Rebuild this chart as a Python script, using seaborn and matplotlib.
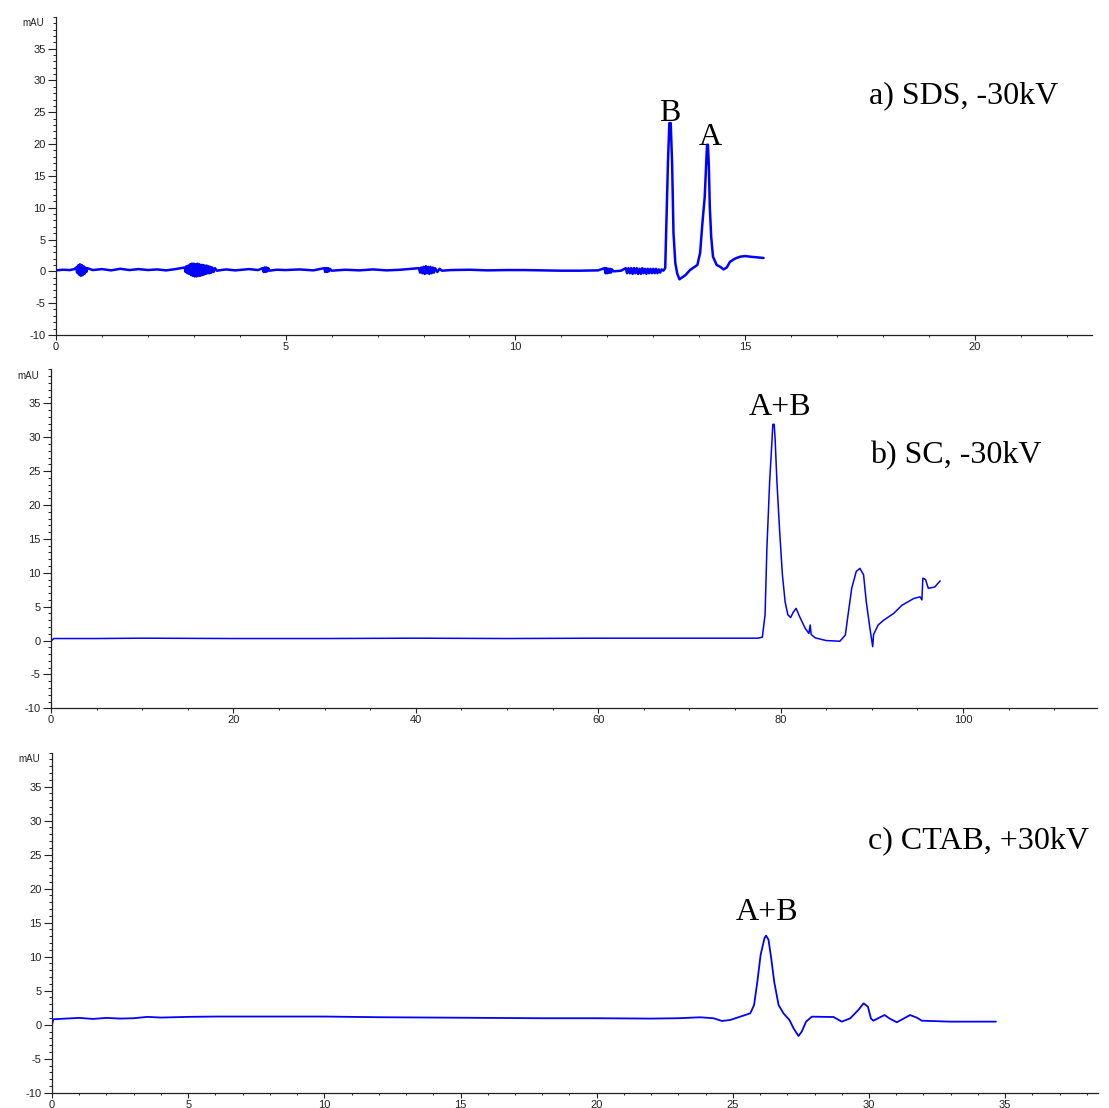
import matplotlib
matplotlib.use("Agg")
import matplotlib.pyplot as plt
from matplotlib.ticker import MultipleLocator
import seaborn as sns
import pandas as pd

# ---- electropherogram traces (time in min, absorbance in mAU) ----
sds_time = [
    0.00, 0.15, 0.30, 0.40,
    0.44, 0.46, 0.48, 0.50, 0.52, 0.54, 0.56, 0.58, 0.60, 0.62, 0.64, 0.66, 0.68,
    0.80, 1.00, 1.20, 1.40, 1.60, 1.80, 2.00, 2.20, 2.40, 2.60,
    2.80, 2.82, 2.84, 2.86, 2.88, 2.90, 2.92, 2.94, 2.96, 2.98, 3.00, 3.02,
    3.04, 3.06, 3.08, 3.10, 3.12, 3.14, 3.16, 3.18, 3.20, 3.22, 3.24, 3.26,
    3.28, 3.30, 3.32, 3.34, 3.36, 3.38, 3.40, 3.43, 3.46, 3.50,
    3.70, 3.90, 4.20, 4.40,
    4.50, 4.52, 4.54, 4.56, 4.58, 4.60, 4.62, 4.65,
    4.80, 5.00, 5.30, 5.60,
    5.84, 5.86, 5.88, 5.90, 5.92, 5.94, 5.96, 6.00,
    6.30, 6.60, 6.90, 7.20, 7.50,
    7.900, 7.925, 7.950, 7.975, 8.000, 8.025, 8.050, 8.075, 8.100, 8.125,
    8.150, 8.175, 8.200, 8.225, 8.250, 8.300, 8.350, 8.400,
    8.60, 9.00, 9.40, 9.80, 10.20, 10.60, 11.00, 11.40, 11.80,
    11.94, 11.96, 11.98, 12.00, 12.02, 12.04, 12.06, 12.08, 12.10, 12.14, 12.30,
    12.40, 12.43, 12.46, 12.49, 12.52, 12.55, 12.58, 12.61, 12.64, 12.67,
    12.70, 12.73, 12.76, 12.79, 12.82, 12.85, 12.88, 12.91, 12.94, 12.97,
    13.00, 13.03, 13.06, 13.09, 13.12, 13.15, 13.18, 13.22,
    13.26, 13.28, 13.32, 13.35, 13.38, 13.41, 13.44, 13.48, 13.52, 13.57,
    13.62, 13.70, 13.80, 13.90, 13.96, 14.02, 14.07, 14.12, 14.15, 14.17,
    14.19, 14.21, 14.23, 14.26, 14.30, 14.38, 14.46, 14.53, 14.60, 14.67,
    14.78, 14.89, 15.00, 15.11, 15.25, 15.40,
]
sds_signal = [
    0.15, 0.25, 0.20, 0.35,
    0.6, -0.2, 0.9, -0.5, 1.1, -0.7, 1.0, -0.6, 0.8, -0.4, 0.6, -0.1, 0.5,
    0.20, 0.35, 0.15, 0.40, 0.20, 0.35, 0.20, 0.30, 0.15, 0.35,
    0.6, -0.1, 0.8, -0.3, 0.9, -0.4, 1.1, -0.6, 1.2, -0.7, 1.2, -0.8,
    1.1, -0.8, 1.2, -0.7, 1.1, -0.7, 1.0, -0.6, 1.0, -0.5, 0.9, -0.4,
    0.9, -0.3, 0.8, -0.3, 0.7, -0.2, 0.6, -0.1, 0.5, 0.1,
    0.30, 0.15, 0.35, 0.20,
    0.5, -0.1, 0.6, -0.1, 0.6, 0.0, 0.5, 0.1,
    0.25, 0.20, 0.30, 0.15,
    0.5, -0.1, 0.5, -0.1, 0.5, 0.0, 0.4, 0.1,
    0.25, 0.15, 0.30, 0.15, 0.25,
    0.5, -0.2, 0.6, -0.3, 0.7, -0.4, 0.8, -0.3, 0.7, -0.4,
    0.7, -0.3, 0.6, -0.2, 0.5, -0.1, 0.4, 0.1,
    0.20, 0.25, 0.15, 0.20, 0.20, 0.15, 0.10, 0.10, 0.15,
    0.5, -0.3, 0.5, -0.3, 0.4, -0.2, 0.4, -0.2, 0.3, 0.0, 0.1,
    0.5, -0.3, 0.5, -0.3, 0.5, -0.4, 0.5, -0.3, 0.5, -0.4,
    0.4, -0.4, 0.5, -0.3, 0.4, -0.4, 0.4, -0.3, 0.4, -0.3,
    0.4, -0.3, 0.4, -0.3, 0.3, -0.2, 0.3, 0.1,
    0.5, 6.0, 17.2, 23.3, 23.3, 17.0, 6.0, 1.3, -0.3, -1.25,
    -1.0, -0.6, 0.2, 0.7, 1.0, 2.9, 7.6, 11.7, 16.5, 19.9,
    19.9, 16.5, 10.2, 5.5, 2.3, 1.0, 0.7, 0.3, 0.6, 1.5,
    2.0, 2.3, 2.4, 2.3, 2.2, 2.1,
]

sc_time = [
    0.0, 0.3, 5.0, 10.0, 20.0, 30.0, 40.0, 50.0, 60.0, 70.0, 77.5,
    78.0, 78.3, 78.5, 78.8, 79.05, 79.15, 79.3, 79.4, 79.6, 79.9,
    80.2, 80.5, 80.8, 81.1, 81.4, 81.7, 82.1, 82.7, 83.1, 83.25,
    83.35, 83.8, 85.0, 86.5, 87.1, 87.4, 87.8, 88.3, 88.7, 89.1,
    89.4, 89.8, 90.1, 90.2, 90.7, 91.3, 92.4, 93.3, 94.6, 95.3,
    95.5, 95.6, 95.9, 96.2, 96.9, 97.5,
]
sc_signal = [
    -0.1, 0.3, 0.3, 0.35, 0.3, 0.3, 0.35, 0.3, 0.35, 0.35, 0.35,
    0.5, 3.8, 13.6, 23.4, 29.3, 31.9, 31.9, 29.8, 23.4, 16.1,
    9.7, 5.7, 3.8, 3.4, 4.2, 4.75, 3.5, 1.8, 1.05, 2.3,
    0.9, 0.4, 0.0, -0.1, 0.8, 3.8, 7.7, 10.2, 10.65, 9.7,
    5.7, 1.8, -0.9, 0.9, 2.3, 3.0, 4.0, 5.2, 6.2, 6.45,
    6.0, 9.2, 9.0, 7.7, 7.9, 8.8,
]

ctab_time = [
    0.0, 0.05, 0.5, 1.0, 1.5, 2.0, 2.5, 3.0, 3.5, 4.0, 5.0, 6.0, 8.0,
    10.0, 12.0, 14.0, 16.0, 18.0, 20.0, 22.0, 23.0, 23.8, 24.29, 24.6,
    24.9, 25.27, 25.64, 25.78, 25.9, 26.02, 26.16, 26.22, 26.31, 26.41,
    26.52, 26.68, 26.86, 27.08, 27.23, 27.41, 27.53, 27.69, 27.9, 28.7,
    29.0, 29.31, 29.61, 29.8, 29.96, 30.07, 30.16, 30.57, 30.75, 31.02,
    31.51, 31.76, 31.94, 32.98, 34.66,
]
ctab_signal = [
    0.0, 0.8, 0.9, 1.0, 0.85, 1.0, 0.9, 0.95, 1.15, 1.05, 1.15, 1.2, 1.2,
    1.2, 1.1, 1.05, 1.0, 0.95, 0.95, 0.9, 0.95, 1.09, 0.95, 0.55,
    0.69, 1.18, 1.67, 2.89, 6.3, 10.25, 12.7, 13.1, 12.5, 9.76,
    6.3, 2.9, 1.67, 0.69, -0.53, -1.66, -1.02, 0.45, 1.18, 1.13,
    0.45, 0.93, 2.17, 3.14, 2.65, 0.93, 0.59, 1.42, 0.93, 0.35,
    1.42, 1.03, 0.59, 0.45, 0.45,
]

panel_titles = ["a) SDS, -30kV", "b) SC, -30kV", "c) CTAB, +30kV"]
peak_labels = [
    [("B", 13.36, 23.7), ("A", 14.25, 19.8)],
    [("A+B", 79.93, 33.3)],
    [("A+B", 26.25, 15.4)],
]
title_pos = [(17.69, 26.4), (89.8, 26.1), (29.97, 25.9)]
x_limits = [22.55, 114.7, 38.41]
x_major = [5, 20, 5]
x_minor = [1, 5, 1]
y_range = (-10, 40)

sns.set_style("ticks")
plt.rcParams["font.family"] = ["Liberation Sans", "DejaVu Sans"]
plt.rcParams["axes.unicode_minus"] = False

fig = plt.figure(figsize=(11.09, 11.08), dpi=100)
positions = [
    [0.0505, 0.6977, 0.9342, 0.2871],
    [0.0460, 0.3607, 0.9432, 0.3059],
    [0.0469, 0.0138, 0.9432, 0.3069],
]
traces = [(sds_time, sds_signal), (sc_time, sc_signal), (ctab_time, ctab_signal)]
widths = [1.8, 1.1, 1.3]
serif = ["Liberation Serif", "DejaVu Serif"]

for i, (pos, (t, s)) in enumerate(zip(positions, traces)):
    ax = fig.add_axes(pos)
    df = pd.DataFrame({"time": t, "signal": s})
    sns.lineplot(data=df, x="time", y="signal", ax=ax, color="#0000ff",
                 linewidth=widths[i], sort=False, estimator=None)
    ax.set_xlim(0, x_limits[i])
    ax.set_ylim(*y_range)
    ax.set_xlabel("")
    ax.set_ylabel("")
    for side in ("top", "right"):
        ax.spines[side].set_visible(False)
    for side in ("left", "bottom"):
        ax.spines[side].set_color("#222222")
        ax.spines[side].set_linewidth(0.9)
    ax.xaxis.set_major_locator(MultipleLocator(x_major[i]))
    ax.xaxis.set_minor_locator(MultipleLocator(x_minor[i]))
    ax.yaxis.set_minor_locator(MultipleLocator(1))
    ax.set_yticks(list(range(-10, 40, 5)))
    ax.tick_params(axis="y", which="major", length=5.5, width=0.8, pad=2,
                   labelsize=8, colors="#222222")
    ax.tick_params(axis="y", which="minor", length=2.4, width=0.7, color="#222222")
    ax.tick_params(axis="x", which="major", length=3.6, width=0.8, pad=1.5,
                   labelsize=8, colors="#222222")
    ax.tick_params(axis="x", which="minor", length=1.6, width=0.7, color="#222222")
    ax.text(-0.0115, 39.0, "mAU", transform=ax.get_yaxis_transform(),
            ha="right", va="center", fontsize=7, color="#222222")
    tx, ty = title_pos[i]
    ax.text(tx, ty, panel_titles[i], ha="left", va="baseline",
            fontsize=23, family=serif, color="black")
    for lab, lx, ly in peak_labels[i]:
        ax.text(lx, ly, lab, ha="center", va="baseline",
                fontsize=23, family=serif, color="black")

fig.savefig("out.png", dpi=100, facecolor="white")
